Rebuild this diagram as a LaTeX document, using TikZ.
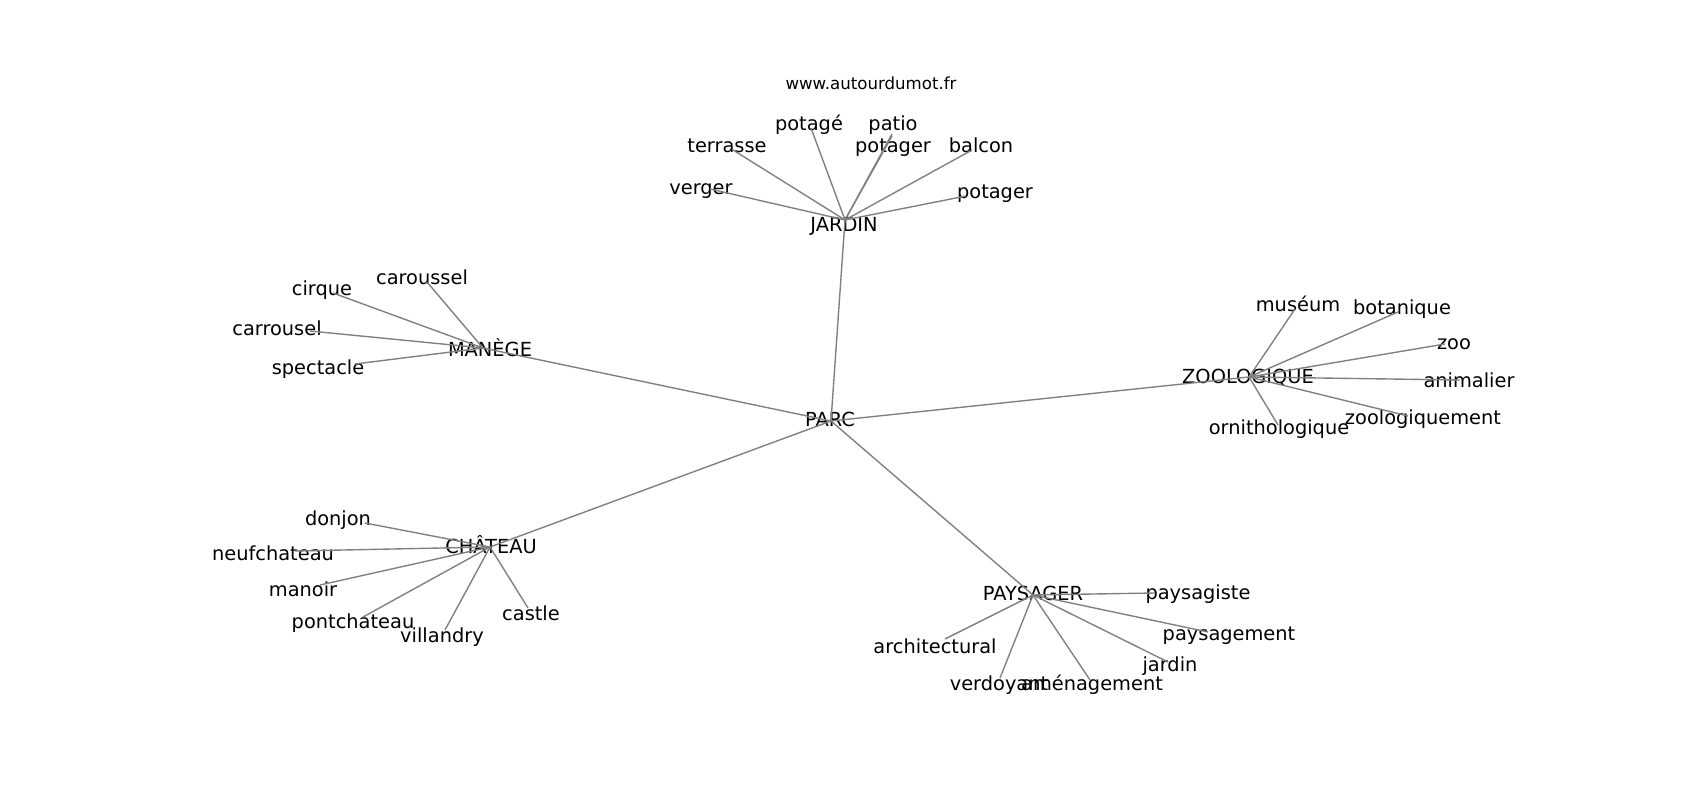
\documentclass[tikz,border=0pt]{standalone}
\usepackage{fontspec}
\setmainfont{DejaVu Sans}
\usepackage{tikz}

\begin{document}
\begin{tikzpicture}[x=0.01in,y=-0.01in,
    word/.style={font=\fontsize{14}{16}\selectfont, inner sep=0pt, text height=10.6pt, text depth=2.9pt, yshift=-1.5pt},
    link/.style={draw=gray, line width=1pt}]
    \fill[white] (0,0) rectangle (1700,800);
    \node[font=\fontsize{12}{14}\selectfont, inner sep=0pt, text height=9.1pt, text depth=2.5pt, yshift=-1pt] (site) at (871,84) {www.autourdumot.fr};

    % Hubs
    \coordinate (parc) at (831,421); \node[word] (parc-t) at (830,419) {PARC};
    \coordinate (jardin) at (845,220); \node[word] (jardin-t) at (844,224) {JARDIN};
    \coordinate (manege) at (483,348); \node[word] (manege-t) at (490,349) {MANÈGE};
    \coordinate (zoologique) at (1249,377); \node[word] (zoologique-t) at (1248,376) {ZOOLOGIQUE};
    \coordinate (chateau) at (490,547); \node[word] (chateau-t) at (491,546) {CHÂTEAU};
    \coordinate (paysager) at (1033,595); \node[word] (paysager-t) at (1033,593) {PAYSAGER};

    % Jardin
    \coordinate (verger) at (710,189); \node[word] (verger-t) at (701,187) {verger};
    \coordinate (terrasse) at (733,150); \node[word] (terrasse-t) at (727,145) {terrasse};
    \coordinate (potage) at (811,128); \node[word] (potage-t) at (809,123) {potagé};
    \coordinate (patio) at (892,134); \node[word] (patio-t) at (893,123) {patio};
    \coordinate (potagerA) at (892,136); \node[word] (potagerA-t) at (893,145) {potager};
    \coordinate (balcon) at (972,150); \node[word] (balcon-t) at (981,145) {balcon};
    \coordinate (potagerB) at (966,196); \node[word] (potagerB-t) at (995,191) {potager};

    % Manege
    \coordinate (caroussel) at (427,282); \node[word] (caroussel-t) at (422,277) {caroussel};
    \coordinate (cirque) at (333,293); \node[word] (cirque-t) at (322,288) {cirque};
    \coordinate (carrousel) at (310,331); \node[word] (carrousel-t) at (277,328) {carrousel};
    \coordinate (spectacle) at (355,364); \node[word] (spectacle-t) at (318,367) {spectacle};

    % Zoologique
    \coordinate (museum) at (1295,309); \node[word] (museum-t) at (1298,304) {muséum};
    \coordinate (botanique) at (1398,312); \node[word] (botanique-t) at (1402,307) {botanique};
    \coordinate (zoo) at (1445,344); \node[word] (zoo-t) at (1454,342) {zoo};
    \coordinate (animalier) at (1460,380); \node[word] (animalier-t) at (1469,380) {animalier};
    \coordinate (zoologiquement) at (1408,416); \node[word] (zoologiquement-t) at (1423,417) {zoologiquement};
    \coordinate (ornithologique) at (1278,425); \node[word] (ornithologique-t) at (1279,427) {ornithologique};

    % Chateau
    \coordinate (donjon) at (365,523); \node[word] (donjon-t) at (338,518) {donjon};
    \coordinate (neufchateau) at (295,551); \node[word] (neufchateau-t) at (273,553) {neufchateau};
    \coordinate (manoir) at (320,585); \node[word] (manoir-t) at (303,589) {manoir};
    \coordinate (pontchateau) at (363,617); \node[word] (pontchateau-t) at (353,621) {pontchateau};
    \coordinate (villandry) at (445,630); \node[word] (villandry-t) at (442,635) {villandry};
    \coordinate (castle) at (528,608); \node[word] (castle-t) at (531,613) {castle};

    % Paysager
    \coordinate (paysagiste) at (1155,593); \node[word] (paysagiste-t) at (1198,592) {paysagiste};
    \coordinate (paysagement) at (1208,632); \node[word] (paysagement-t) at (1229,633) {paysagement};
    \coordinate (jardinB) at (1168,662); \node[word] (jardinB-t) at (1170,664) {jardin};
    \coordinate (amenagement) at (1090,680); \node[word] (amenagement-t) at (1092,683) {aménagement};
    \coordinate (verdoyant) at (1000,678); \node[word] (verdoyant-t) at (999,683) {verdoyant};
    \coordinate (architectural) at (945,639); \node[word] (architectural-t) at (935,646) {architectural};

    % Links
    \draw[link] (parc) -- (jardin); \draw[link] (parc) -- (manege); \draw[link] (parc) -- (zoologique);
    \draw[link] (parc) -- (chateau); \draw[link] (parc) -- (paysager);
    \draw[link] (jardin) -- (verger); \draw[link] (jardin) -- (terrasse); \draw[link] (jardin) -- (potage);
    \draw[link] (jardin) -- (patio); \draw[link] (jardin) -- (potagerA); \draw[link] (jardin) -- (balcon);
    \draw[link] (jardin) -- (potagerB);
    \draw[link] (manege) -- (caroussel); \draw[link] (manege) -- (cirque); \draw[link] (manege) -- (carrousel);
    \draw[link] (manege) -- (spectacle);
    \draw[link] (zoologique) -- (museum); \draw[link] (zoologique) -- (botanique); \draw[link] (zoologique) -- (zoo);
    \draw[link] (zoologique) -- (animalier); \draw[link] (zoologique) -- (zoologiquement);
    \draw[link] (zoologique) -- (ornithologique);
    \draw[link] (chateau) -- (donjon); \draw[link] (chateau) -- (neufchateau); \draw[link] (chateau) -- (manoir);
    \draw[link] (chateau) -- (pontchateau); \draw[link] (chateau) -- (villandry); \draw[link] (chateau) -- (castle);
    \draw[link] (paysager) -- (paysagiste); \draw[link] (paysager) -- (paysagement); \draw[link] (paysager) -- (jardinB);
    \draw[link] (paysager) -- (amenagement); \draw[link] (paysager) -- (verdoyant);
    \draw[link] (paysager) -- (architectural);
\end{tikzpicture}
\end{document}
